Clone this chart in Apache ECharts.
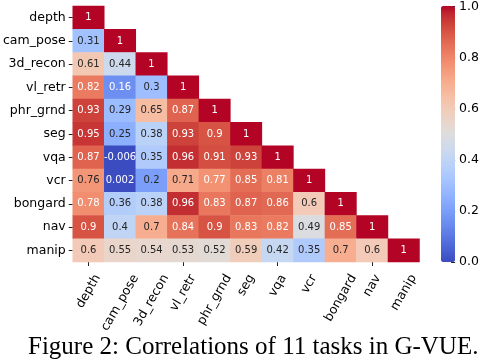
<!DOCTYPE html>
<html>
<head>
<meta charset="utf-8">
<script src="https://cdn.jsdelivr.net/npm/echarts@6/dist/echarts.min.js"></script>
<style>html,body{margin:0;padding:0;background:#fff;}#c{width:482px;height:360px;}</style>
</head>
<body>
<div id="c"></div>
<script>
const tasks = ['depth','cam_pose','3d_recon','vl_retr','phr_grnd','seg','vqa','vcr','bongard','nav','manip'];
const corrRows = [
  [1],
  [0.31, 1],
  [0.61, 0.44, 1],
  [0.82, 0.16, 0.3, 1],
  [0.93, 0.29, 0.65, 0.87, 1],
  [0.95, 0.25, 0.38, 0.93, 0.9, 1],
  [0.87, -0.006, 0.35, 0.96, 0.91, 0.93, 1],
  [0.76, 0.002, 0.2, 0.71, 0.77, 0.85, 0.81, 1],
  [0.78, 0.36, 0.38, 0.96, 0.83, 0.87, 0.86, 0.6, 1],
  [0.9, 0.4, 0.7, 0.84, 0.9, 0.83, 0.82, 0.49, 0.85, 1],
  [0.6, 0.55, 0.54, 0.53, 0.52, 0.59, 0.42, 0.35, 0.7, 0.6, 1]
];
const colorbarTicks = [0.0, 0.2, 0.4, 0.6, 0.8, 1.0];
const caption = 'Figure 2: Correlations of 11 tasks in G-VUE.';

const coolwarm = [
 [59,76,192],[68,90,204],[77,104,215],[87,117,225],[98,130,234],[108,142,241],[119,154,247],[130,165,251],
 [141,176,254],[152,185,255],[163,194,255],[174,201,253],[184,208,249],[194,213,244],[204,217,238],[213,219,230],
 [221,221,221],[229,216,209],[236,211,197],[241,204,185],[245,196,173],[247,187,160],[247,177,148],[247,166,135],
 [244,154,123],[241,141,111],[236,127,99],[229,112,88],[222,96,77],[213,80,66],[203,62,56],[192,40,47],[180,4,38]
].map(c => 'rgb(' + c.join(',') + ')');

const data = [];
corrRows.forEach((row, r) => {
  row.forEach((v, c) => {
    const white = (v >= 0.765 || v < 0.18);
    data.push({ value: [c, r, v], label: { color: white ? '#ffffff' : '#262626' } });
  });
});

const FONT = 'DejaVu Sans';
const LABEL_SIZE = 12.5;
const chart = echarts.init(document.getElementById('c'), null, { renderer: 'canvas' });
chart.setOption({
  animation: false,
  backgroundColor: '#fff',
  title: {
    text: caption, left: 28, top: 335, padding: 0,
    textStyle: { fontFamily: 'Liberation Serif', fontSize: 25, fontWeight: 'normal', color: '#000' }
  },
  grid: [
    { left: 70, top: 6, width: 349.5, height: 256 },
    { left: 441, top: 6, width: 14, height: 256 }
  ],
  xAxis: [
    { type: 'category', gridIndex: 0, data: tasks, position: 'bottom',
      axisLine: { show: false },
      axisTick: { show: true, alignWithLabel: true, length: 4, lineStyle: { color: '#222', width: 1 } },
      axisLabel: { show: false },
      splitLine: { show: false } },
    { type: 'category', gridIndex: 1, data: [''], show: false }
  ],
  yAxis: [
    { type: 'category', gridIndex: 0, data: tasks, inverse: true,
      axisLine: { show: false },
      axisTick: { show: true, alignWithLabel: true, length: 4, lineStyle: { color: '#222', width: 1 } },
      axisLabel: { fontSize: LABEL_SIZE, fontFamily: FONT, color: '#000', margin: 7, interval: 0 },
      splitLine: { show: false } },
    { type: 'value', gridIndex: 1, position: 'right', min: colorbarTicks[0], max: colorbarTicks[colorbarTicks.length - 1], interval: 0.2,
      axisLine: { show: false },
      axisTick: { show: true, length: 4, lineStyle: { color: '#222' } },
      axisLabel: { fontSize: LABEL_SIZE, fontFamily: FONT, color: '#000', margin: 8, formatter: v => v.toFixed(1) },
      splitLine: { show: false } }
  ],
  visualMap: {
    type: 'continuous', seriesIndex: 0, dimension: 2, min: 0, max: 1,
    left: 441, top: 6, itemWidth: 14, itemHeight: 256, padding: 0,
    calculable: false, hoverLink: false, text: null,
    inRange: { color: coolwarm },
    outOfRange: { color: coolwarm[0] }
  },
  series: [{
    type: 'heatmap', xAxisIndex: 0, yAxisIndex: 0, data: data,
    label: { show: true, fontSize: 10, fontFamily: FONT, formatter: p => String(p.value[2]) },
    itemStyle: { borderWidth: 0 },
    emphasis: { disabled: true }
  }]
});

// Rotated x tick labels, centred on each tick like matplotlib (rotation=60, ha='center')
const ctx = document.createElement('canvas').getContext('2d');
ctx.font = LABEL_SIZE + 'px "' + FONT + '"';
const ang = Math.PI / 3;
const h = LABEL_SIZE * 1.16;
const axisBottom = chart.convertToPixel({ gridIndex: 0 }, [0, tasks.length - 1])[1] + 256 / tasks.length / 2;
const labelTop = axisBottom + 10;
const graphics = tasks.map((t, i) => {
  const x = chart.convertToPixel({ xAxisIndex: 0, yAxisIndex: 0 }, [i, 0])[0];
  const w = ctx.measureText(t).width;
  const ex = x + w * Math.cos(ang) / 2;
  const ey = labelTop + h * Math.cos(ang) / 2;
  return {
    type: 'text', x: ex, y: ey, rotation: ang, silent: true,
    style: { text: t, fontSize: LABEL_SIZE, fontFamily: FONT, fill: '#000', align: 'right', verticalAlign: 'middle' }
  };
});
chart.setOption({ graphic: graphics });
</script>
</body>
</html>
